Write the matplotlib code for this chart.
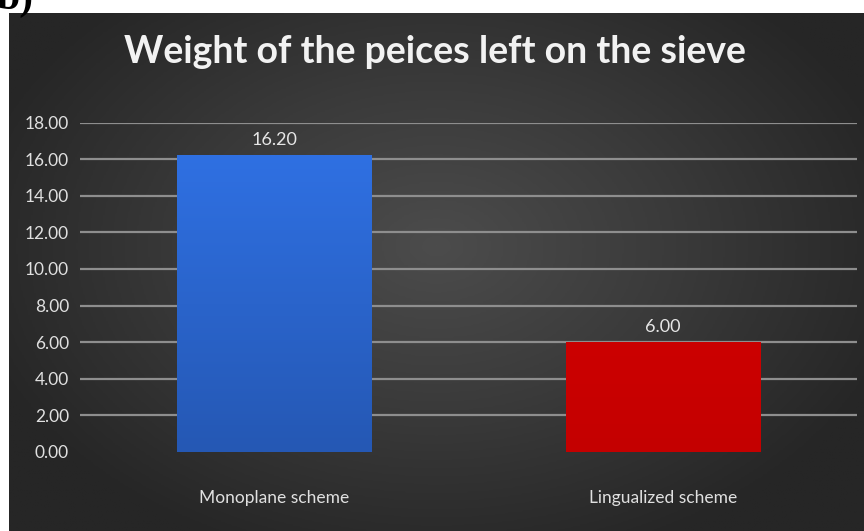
import numpy as np
import matplotlib.pyplot as plt
from matplotlib.colors import LinearSegmentedColormap

categories = ["Monoplane scheme", "Lingualized scheme"]
weights = [16.20, 6.00]
bar_colors = [("#2558b4", "#2f70e2"), ("#c40000", "#cc0000")]
yticks = [0, 2, 4, 6, 8, 10, 12, 14, 16, 18]

title = "Weight of the peices left on the sieve"
narrow = ["Liberation Sans Narrow", "Lato", "DejaVu Sans"]

fig = plt.figure(figsize=(8.64, 5.31), dpi=100)
fig.patch.set_facecolor("white")

# dark panel with radial gradient
bg = fig.add_axes([9 / 864, 0, 855 / 864, 518 / 531], zorder=0)
yy, xx = np.mgrid[0:1:300j, 0:1:500j]
r = np.sqrt(((xx - 0.5) / 0.75) ** 2 + ((yy - 0.45) / 0.85) ** 2)
bg_cmap = LinearSegmentedColormap.from_list("bg", ["#4c4c4c", "#3a3a3a", "#262626"])
bg.imshow(r, cmap=bg_cmap, aspect="auto", extent=[0, 1, 0, 1], vmin=0, vmax=0.75)
bg.set_axis_off()

# panel label, cut off at the top as in the source
fig.text(-0.004, 1 - 9 / 531, "b)", fontsize=30, fontweight="bold",
         family="Liberation Serif", color="black", va="baseline", ha="left")

fig.text(0.503, 1 - 52 / 531, title, fontsize=27, fontweight="bold",
         family=narrow, color="#f2f2f2", ha="center", va="center")

ax = fig.add_axes([80 / 864, 79 / 531, 777 / 864, 329.5 / 531], zorder=1)
ax.set_facecolor("none")
x = np.arange(len(categories))
bars = ax.bar(x, weights, width=0.5, color="none", zorder=3)

for b, (c0, c1) in zip(bars, bar_colors):
    cm = LinearSegmentedColormap.from_list("g", [c0, c1])
    grad = np.linspace(0, 1, 100).reshape(-1, 1)
    im = ax.imshow(grad, cmap=cm, aspect="auto", origin="lower", zorder=3,
                   extent=[b.get_x(), b.get_x() + b.get_width(), 0, b.get_height()])
    im.set_clip_path(b)
    ax.text(b.get_x() + b.get_width() / 2, b.get_height() + 0.4, f"{b.get_height():.2f}",
            ha="center", va="bottom", fontsize=13, family=narrow, color="#e6e6e6", zorder=4)

ax.set_xlim(-0.5, len(categories) - 0.5)
ax.set_ylim(0, 18)
ax.set_yticks(yticks)
ax.set_yticklabels([f"{v:.2f}" for v in yticks], family=narrow, fontsize=12.5, color="#e0e0e0")
ax.set_xticks(x)
ax.set_xticklabels(categories, family=narrow, fontsize=12.5, color="#e0e0e0")
ax.tick_params(axis="y", length=0, pad=8)
ax.tick_params(axis="x", length=0, pad=27)

for v in yticks[1:]:
    ax.axhline(v, color="#8e8e8e", lw=1.6, zorder=1)
for s in ax.spines.values():
    s.set_visible(False)

fig.savefig("out.png", dpi=100)
